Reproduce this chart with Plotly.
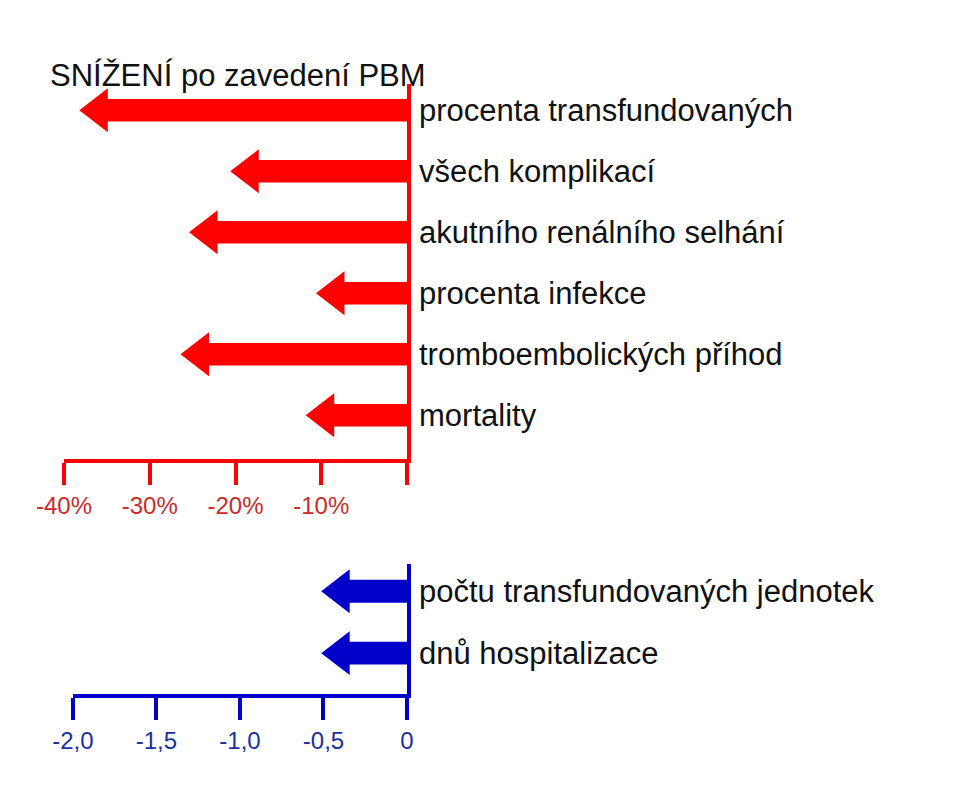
import plotly.graph_objects as go

red_labels = ["procenta transfundovaných", "všech komplikací", "akutního renálního selhání",
              "procenta infekce", "tromboembolických příhod", "mortality"]
red_values = [-36.0, -18.4, -23.2, -8.4, -24.2, -9.6]
blue_labels = ["počtu transfundovaných jednotek", "dnů hospitalizace"]
blue_values = [-0.40, -0.40]
red_ticks = [-40, -30, -20, -10, 0]
red_ticktext = ["-40%", "-30%", "-20%", "-10%", ""]
blue_ticks = [-2.0, -1.5, -1.0, -0.5, 0]
blue_ticktext = ["-2,0", "-1,5", "-1,0", "-0,5", "0"]

RED = "#ff0000"; RED_T = "#cc2a2a"; BLUE = "#0000c8"; BLUE_T = "#1a2fa0"
FONT = "Liberation Sans, Arial, sans-serif"

fig = go.Figure()
ry = list(range(len(red_labels)))
by = list(range(len(blue_labels)))
fig.add_trace(go.Bar(x=red_values, y=ry, orientation="h", width=0.37, marker_color=RED,
                     marker_line_width=0, xaxis="x", yaxis="y"))
fig.add_trace(go.Scatter(x=red_values, y=ry, mode="markers", xaxis="x", yaxis="y",
                         marker=dict(symbol="triangle-left", size=38, color=RED, line_width=0)))
fig.add_trace(go.Bar(x=blue_values, y=by, orientation="h", width=0.37, marker_color=BLUE,
                     marker_line_width=0, xaxis="x2", yaxis="y2"))
fig.add_trace(go.Scatter(x=blue_values, y=by, mode="markers", xaxis="x2", yaxis="y2",
                         marker=dict(symbol="triangle-left", size=38, color=BLUE, line_width=0)))

ann = []
for lab, y in zip(red_labels, ry):
    ann.append(dict(x=0, y=y, xref="x", yref="y", text=lab, showarrow=False, xanchor="left",
                    xshift=10, font=dict(size=31, color="#111", family=FONT)))
for lab, y in zip(blue_labels, by):
    ann.append(dict(x=0, y=y, xref="x2", yref="y2", text=lab, showarrow=False, xanchor="left",
                    xshift=10, font=dict(size=31, color="#111", family=FONT)))
ann.append(dict(x=1.061, y=1.046, xref="x domain", yref="paper", text="SNÍŽENÍ po zavedení PBM",
                showarrow=False, font=dict(size=31, color="#111", family=FONT)))

fig.update_layout(
    width=970, height=800, margin=dict(l=56, r=571, t=76, b=114),
    plot_bgcolor="white", paper_bgcolor="white", showlegend=False,
    annotations=ann, font=dict(family=FONT),
    xaxis=dict(domain=[0, 1], range=[-40, 0], anchor="y", showline=True, linecolor=RED, linewidth=4,
               ticks="outside", ticklen=22, tickwidth=4, tickcolor=RED, tickvals=red_ticks,
               ticktext=red_ticktext, tickfont=dict(size=24, color=RED_T), showgrid=False, zeroline=False),
    yaxis=dict(domain=[0.385, 1], range=[5.72, -0.43], anchor="x", side="right", showline=True,
               linecolor=RED, linewidth=4, showticklabels=False, ticks="", showgrid=False, zeroline=False),
    xaxis2=dict(domain=[0.026, 1], range=[-2.0, 0], anchor="y2", showline=True, linecolor=BLUE, linewidth=4,
                ticks="outside", ticklen=22, tickwidth=4, tickcolor=BLUE, tickvals=blue_ticks,
                ticktext=blue_ticktext, tickfont=dict(size=24, color=BLUE_T), showgrid=False, zeroline=False),
    yaxis2=dict(domain=[0, 0.213], range=[1.66, -0.44], anchor="x2", side="right", showline=True,
                linecolor=BLUE, linewidth=4, showticklabels=False, ticks="", showgrid=False, zeroline=False),
)
fig.write_html("out.html")
